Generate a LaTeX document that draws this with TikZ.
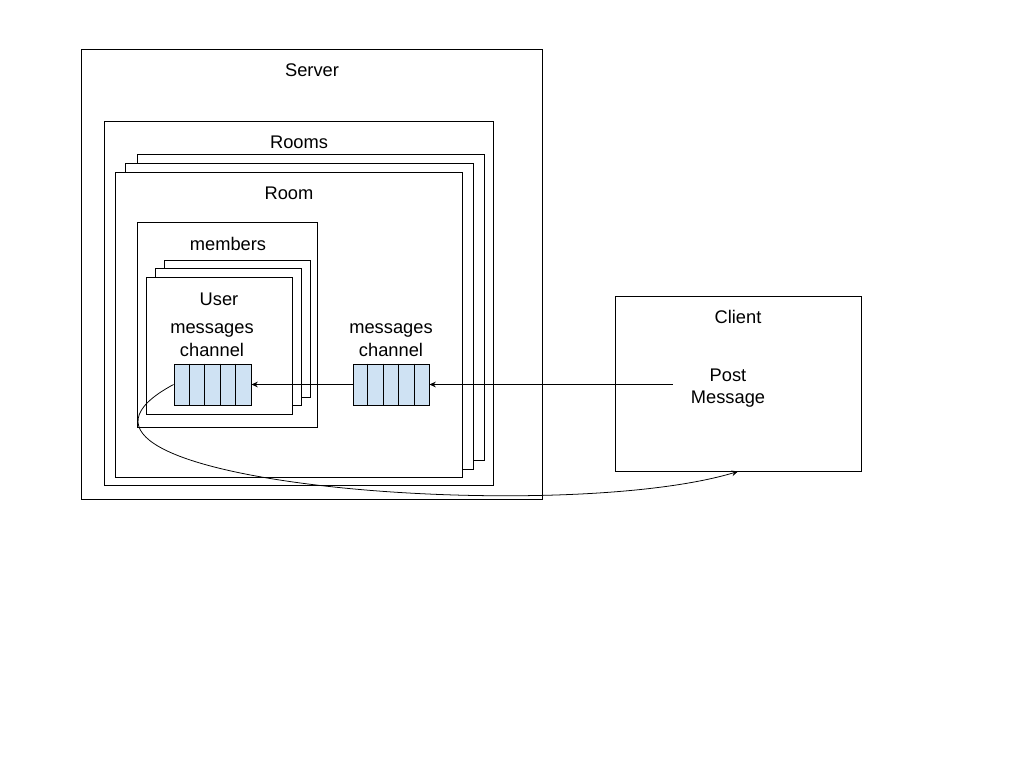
\documentclass[tikz,border=0pt]{standalone}
\usepackage{fontspec}
\setmainfont{Liberation Sans}
\usetikzlibrary{fit,calc,arrows.meta}
\definecolor{queuefill}{HTML}{CFE2F3}
\begin{document}
\begin{tikzpicture}[x=0.025cm,y=-0.025cm,
  box/.style={draw, line width=0.65pt, inner sep=0pt, fill=white},
  queue/.style={draw, line width=0.65pt, inner sep=0pt, fill=queuefill},
  lbl/.style={inner sep=0pt, font=\fontsize{13}{15.65}\selectfont},
  lbl2/.style={lbl, align=center},
  flow/.style={line width=0.55pt, -{Stealth[length=4.5pt,width=4pt]}}]
\useasboundingbox (0,0) rectangle (1024,768);

% server and the rooms collection
\node[box, fit={(81,49) (542,499)}] (server) {};
\node[box, fit={(104,121) (493,485)}] (rooms) {};

% stacked rooms
\node[box, fit={(137,154) (484,460)}] (roomback) {};
\node[box, fit={(125,163) (473,469)}] (roommid) {};
\node[box, fit={(115,172) (462,477)}] (room) {};

% members with stacked users
\node[box, fit={(137,222) (317,427)}] (members) {};
\node[box, fit={(164,260) (310,397)}] (userback) {};
\node[box, fit={(155,268) (301,405)}] (usermid) {};
\node[box, fit={(146,277) (292,414)}] (user) {};

% client
\node[box, fit={(615,296) (861,471)}] (client) {};

% message queues
\node[queue, fit={(174,364) (251,405)}] (userq) {};
\node[queue, fit={(353,364) (429,405)}] (roomq) {};
\foreach \q in {userq,roomq}
  \foreach \i in {1,...,4}
    \draw[line width=0.65pt] ($(\q.north west)!\i/5!(\q.north east)$) -- ($(\q.south west)!\i/5!(\q.south east)$);

% labels
\node[lbl, anchor=base] (serverlabel) at (312,76.5) {Server};
\node[lbl, anchor=base] (roomslabel) at (299,148.5) {Rooms};
\node[lbl, anchor=base] (roomlabel) at (289,199.5) {Room};
\node[lbl, anchor=base] (memberslabel) at (228,250) {members};
\node[lbl, anchor=base] (userlabel) at (219,305) {User};
\node[lbl2] (userqlabel) at (212,340.6) {\strut messages\\\strut channel};
\node[lbl2] (roomqlabel) at (391,340.6) {\strut messages\\\strut channel};
\node[lbl, anchor=base] (clientlabel) at (738,323.5) {Client};
\node[lbl2] (post) at (728,387.6) {\strut Post\\\strut Message};

% message flow
\coordinate (poststart) at ($(post.west |- roomq.east)+(-18,0)$);
\draw[flow] (poststart) -- (roomq.east);
\draw[flow] (roomq.west) -- (userq.east);
\draw[flow] (userq.west) .. controls (-8,482) and (556,526.5) .. (client.south);
\end{tikzpicture}
\end{document}
